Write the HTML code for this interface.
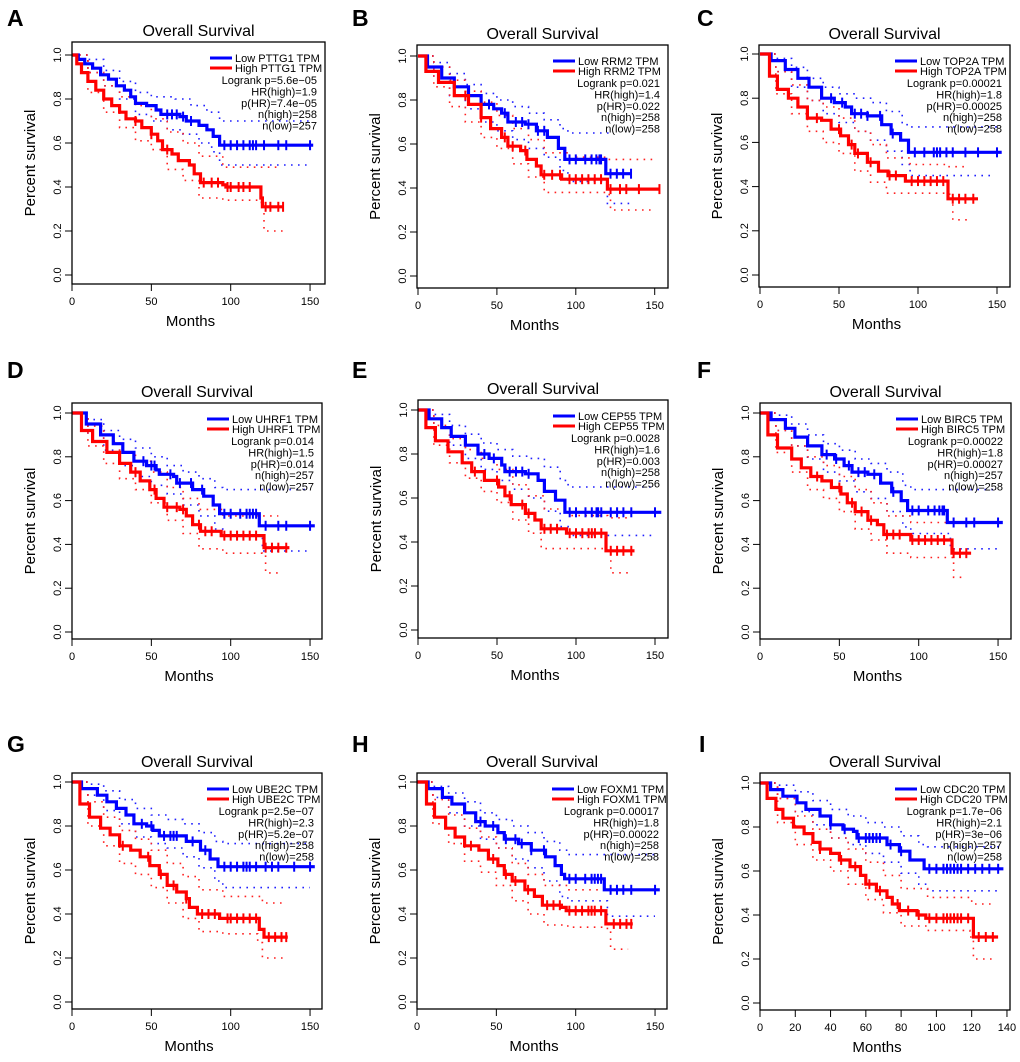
<!DOCTYPE html>
<html><head><meta charset="utf-8"><style>
body{margin:0;background:#fff}
svg text{font-family:"Liberation Sans",Arial,sans-serif}
</style></head><body>
<svg id="fig" width="1020" height="1057" viewBox="0 0 1020 1057" xmlns="http://www.w3.org/2000/svg"></svg>
<script>
// ---- data ----
const panelLetters=["A","B","C","D","E","F","G","H","I"];
const genes=["PTTG1","RRM2","TOP2A","UHRF1","CEP55","BIRC5","UBE2C","FOXM1","CDC20"];
const logrankP=["5.6e\u221205","0.021","0.00021","0.014","0.0028","0.00022","2.5e\u221207","0.00017","1.7e\u221206"];
const hrHigh=["1.9","1.4","1.8","1.5","1.6","1.8","2.3","1.8","2.1"];
const pHR=["7.4e\u221205","0.022","0.00025","0.014","0.003","0.00027","5.2e\u221207","0.00022","3e\u221206"];
const nHigh=["258","258","258","257","258","257","258","258","257"];
const nLow=["257","258","258","257","256","258","258","258","258"];
const xTicks150=[0,50,100,150];
const xTicks140=[0,20,40,60,80,100,120,140];
const yTicks=[0,0.2,0.4,0.6,0.8,1.0];

const lowCurves=[
[[0,1],[4,0.98],[8,0.96],[13,0.94],[18,0.91],[23,0.89],[28,0.86],[33,0.84],[37,0.81],[40,0.78],[47,0.77],[53,0.75],[56,0.73],[68,0.72],[72,0.70],[80,0.68],[85,0.66],[89,0.63],[93,0.59],[152,0.59]],
[[0,1],[6,0.95],[15,0.90],[23,0.86],[32,0.82],[40,0.78],[48,0.76],[53,0.74],[57,0.70],[68,0.69],[75,0.66],[82,0.63],[89,0.58],[93,0.53],[119,0.465],[135,0.465]],
[[0,1],[7,0.97],[16,0.93],[24,0.89],[31,0.85],[39,0.80],[47,0.78],[54,0.76],[58,0.73],[68,0.72],[77,0.68],[83,0.64],[89,0.61],[94,0.555],[153,0.555]],
[[0,1],[9,0.95],[18,0.90],[26,0.86],[32,0.82],[39,0.78],[47,0.76],[53,0.74],[55,0.72],[64,0.71],[66,0.68],[76,0.65],[83,0.62],[89,0.58],[93,0.54],[118,0.485],[153,0.485]],
[[0,1],[7,0.96],[15,0.92],[21,0.88],[30,0.84],[38,0.80],[45,0.78],[53,0.75],[55,0.72],[68,0.71],[76,0.68],[80,0.63],[87,0.59],[93,0.535],[154,0.535]],
[[0,1],[7,0.97],[16,0.93],[22,0.89],[30,0.85],[39,0.81],[47,0.79],[53,0.76],[58,0.73],[68,0.72],[76,0.68],[83,0.64],[89,0.60],[93,0.555],[118,0.50],[153,0.50]],
[[0,1],[6,0.97],[16,0.94],[22,0.91],[28,0.88],[34,0.85],[39,0.81],[47,0.80],[51,0.78],[55,0.755],[72,0.73],[81,0.69],[87,0.65],[92,0.615],[153,0.615]],
[[0,1],[7,0.97],[16,0.93],[22,0.90],[30,0.86],[37,0.82],[43,0.80],[51,0.77],[55,0.74],[64,0.72],[72,0.69],[81,0.66],[87,0.62],[91,0.58],[93,0.56],[118,0.51],[153,0.51]],
[[0,1],[6,0.97],[13,0.94],[21,0.91],[26,0.88],[34,0.85],[40,0.81],[47,0.79],[53,0.78],[55,0.75],[72,0.72],[79,0.69],[85,0.65],[93,0.61],[138,0.61]]
];
const highCurves=[
[[0,1],[3,0.96],[6,0.92],[10,0.88],[15,0.84],[20,0.80],[25,0.77],[30,0.74],[34,0.71],[40,0.70],[44,0.67],[50,0.64],[54,0.61],[57,0.57],[63,0.55],[67,0.52],[74,0.50],[77,0.46],[81,0.42],[95,0.41],[97,0.40],[119,0.35],[120,0.31],[133,0.31]],
[[0,1],[5,0.93],[13,0.88],[23,0.82],[32,0.78],[40,0.72],[46,0.67],[53,0.63],[57,0.59],[65,0.57],[69,0.53],[75,0.50],[78,0.46],[91,0.44],[120,0.395],[153,0.395]],
[[0,1],[6,0.90],[11,0.84],[18,0.80],[24,0.76],[30,0.71],[39,0.70],[45,0.66],[51,0.63],[56,0.59],[60,0.55],[68,0.51],[75,0.47],[81,0.45],[92,0.425],[119,0.345],[138,0.345]],
[[0,1],[6,0.92],[13,0.87],[22,0.82],[30,0.77],[37,0.73],[43,0.69],[49,0.65],[53,0.61],[58,0.57],[68,0.56],[72,0.53],[76,0.49],[81,0.46],[94,0.44],[121,0.385],[137,0.385]],
[[0,1],[5,0.92],[11,0.86],[19,0.81],[28,0.76],[34,0.72],[42,0.68],[51,0.65],[55,0.61],[59,0.57],[68,0.53],[74,0.50],[78,0.46],[94,0.44],[119,0.36],[137,0.36]],
[[0,1],[5,0.90],[11,0.84],[20,0.79],[26,0.75],[32,0.71],[39,0.69],[45,0.66],[51,0.63],[55,0.59],[60,0.55],[68,0.51],[74,0.49],[78,0.445],[95,0.42],[121,0.36],[133,0.36]],
[[0,1],[5,0.90],[11,0.84],[18,0.79],[24,0.76],[30,0.71],[37,0.69],[43,0.66],[49,0.62],[55,0.58],[60,0.53],[66,0.50],[72,0.47],[74,0.43],[79,0.40],[93,0.38],[118,0.33],[121,0.295],[136,0.295]],
[[0,1],[6,0.90],[11,0.84],[18,0.79],[24,0.75],[30,0.71],[39,0.69],[45,0.65],[51,0.62],[55,0.58],[60,0.55],[68,0.51],[74,0.48],[79,0.44],[91,0.43],[94,0.415],[119,0.355],[136,0.355]],
[[0,1],[4,0.93],[9,0.88],[13,0.84],[19,0.80],[25,0.77],[30,0.73],[34,0.70],[40,0.68],[45,0.65],[51,0.62],[57,0.58],[60,0.54],[66,0.51],[72,0.48],[75,0.45],[79,0.42],[89,0.40],[94,0.385],[121,0.30],[135,0.30]]
];
const lowUpper=[
[[0,1],[10,0.98],[20,0.93],[30,0.88],[40,0.83],[50,0.81],[65,0.80],[75,0.77],[85,0.74],[93,0.70],[150,0.70]],
[[0,1],[10,0.97],[20,0.92],[30,0.87],[40,0.83],[50,0.80],[60,0.77],[70,0.74],[80,0.71],[90,0.67],[95,0.65],[121,0.65]],
[[0,1],[10,0.98],[20,0.94],[30,0.89],[40,0.85],[50,0.82],[60,0.80],[70,0.78],[80,0.74],[90,0.68],[95,0.67],[150,0.67]],
[[0,1],[10,0.97],[20,0.92],[30,0.88],[40,0.84],[50,0.80],[60,0.76],[70,0.73],[80,0.70],[90,0.66],[95,0.65],[150,0.65]],
[[0,1],[10,0.98],[20,0.93],[30,0.89],[40,0.85],[50,0.82],[60,0.79],[70,0.78],[80,0.74],[90,0.68],[95,0.65],[150,0.65]],
[[0,1],[10,0.99],[20,0.95],[30,0.90],[40,0.86],[50,0.83],[60,0.79],[70,0.77],[80,0.73],[90,0.67],[95,0.65],[150,0.65]],
[[0,1],[10,0.99],[20,0.96],[30,0.92],[40,0.88],[50,0.85],[60,0.83],[70,0.81],[80,0.77],[90,0.73],[95,0.72],[150,0.72]],
[[0,1],[10,0.98],[20,0.95],[30,0.91],[40,0.86],[50,0.83],[60,0.80],[70,0.77],[80,0.73],[90,0.69],[95,0.67],[150,0.67]],
[[0,1],[10,0.99],[20,0.96],[30,0.92],[40,0.88],[50,0.85],[60,0.82],[70,0.80],[80,0.76],[90,0.72],[95,0.71],[138,0.71]]
];
const lowLower=[
[[0,1],[10,0.92],[20,0.86],[30,0.80],[40,0.73],[50,0.70],[60,0.66],[70,0.64],[80,0.60],[88,0.56],[93,0.50],[148,0.50]],
[[0,1],[10,0.90],[20,0.82],[30,0.76],[40,0.70],[50,0.66],[60,0.62],[70,0.58],[80,0.54],[90,0.48],[95,0.43],[118,0.43],[120,0.33],[135,0.33]],
[[0,1],[10,0.92],[20,0.85],[30,0.79],[40,0.73],[50,0.69],[60,0.65],[70,0.61],[80,0.56],[90,0.50],[95,0.45],[148,0.45]],
[[0,1],[10,0.90],[20,0.83],[30,0.76],[40,0.71],[50,0.67],[60,0.63],[70,0.58],[80,0.53],[90,0.47],[95,0.44],[118,0.44],[120,0.37],[150,0.37]],
[[0,1],[10,0.92],[20,0.84],[30,0.78],[40,0.73],[50,0.68],[60,0.64],[70,0.60],[80,0.54],[90,0.47],[95,0.43],[148,0.43]],
[[0,1],[10,0.92],[20,0.85],[30,0.79],[40,0.73],[50,0.69],[60,0.64],[70,0.61],[80,0.55],[90,0.48],[95,0.45],[118,0.45],[120,0.38],[150,0.38]],
[[0,1],[10,0.94],[20,0.87],[30,0.81],[40,0.75],[50,0.72],[60,0.70],[70,0.66],[80,0.61],[90,0.55],[95,0.52],[150,0.52]],
[[0,1],[10,0.93],[20,0.86],[30,0.80],[40,0.74],[50,0.70],[60,0.65],[70,0.61],[80,0.55],[90,0.48],[95,0.46],[118,0.46],[120,0.39],[150,0.39]],
[[0,1],[10,0.93],[20,0.87],[30,0.81],[40,0.75],[50,0.72],[60,0.68],[70,0.64],[80,0.59],[90,0.54],[95,0.51],[136,0.51]]
];
const highUpper=[
[[0,1],[10,0.92],[20,0.86],[30,0.81],[40,0.77],[50,0.71],[60,0.65],[70,0.60],[80,0.54],[95,0.49],[130,0.48]],
[[0,1],[10,0.95],[20,0.89],[30,0.84],[40,0.79],[50,0.73],[60,0.67],[70,0.62],[80,0.56],[95,0.54],[120,0.53],[150,0.53]],
[[0,1],[10,0.92],[20,0.86],[30,0.79],[40,0.76],[50,0.71],[60,0.65],[70,0.59],[80,0.53],[95,0.50],[118,0.49],[130,0.49]],
[[0,1],[10,0.94],[20,0.87],[30,0.82],[40,0.78],[50,0.73],[60,0.66],[70,0.61],[80,0.56],[95,0.53],[130,0.53]],
[[0,1],[10,0.93],[20,0.87],[30,0.82],[40,0.78],[50,0.73],[60,0.66],[70,0.61],[80,0.55],[95,0.52],[120,0.51],[133,0.51]],
[[0,1],[10,0.92],[20,0.85],[30,0.80],[40,0.76],[50,0.71],[60,0.65],[70,0.59],[80,0.53],[95,0.50],[130,0.50]],
[[0,1],[10,0.91],[20,0.84],[30,0.78],[40,0.74],[50,0.69],[60,0.63],[70,0.57],[80,0.51],[95,0.48],[120,0.45],[133,0.45]],
[[0,1],[10,0.92],[20,0.85],[30,0.79],[40,0.75],[50,0.70],[60,0.63],[70,0.58],[80,0.53],[95,0.51],[120,0.51]],
[[0,1],[10,0.93],[20,0.85],[30,0.79],[40,0.75],[50,0.70],[60,0.64],[70,0.58],[80,0.52],[95,0.48],[120,0.45],[133,0.45]]
];
const highLower=[
[[0,1],[10,0.83],[20,0.74],[30,0.67],[40,0.61],[50,0.57],[60,0.48],[70,0.43],[80,0.35],[95,0.34],[118,0.33],[121,0.20],[133,0.20]],
[[0,1],[10,0.86],[20,0.77],[30,0.70],[40,0.63],[50,0.58],[60,0.51],[70,0.45],[80,0.38],[120,0.37],[122,0.30],[150,0.30]],
[[0,1],[10,0.82],[20,0.73],[30,0.65],[40,0.60],[50,0.55],[60,0.47],[70,0.42],[80,0.37],[120,0.35],[122,0.25],[133,0.25]],
[[0,1],[10,0.85],[20,0.77],[30,0.70],[40,0.65],[50,0.59],[60,0.51],[70,0.45],[80,0.38],[95,0.36],[120,0.35],[122,0.27],[133,0.27]],
[[0,1],[10,0.84],[20,0.76],[30,0.69],[40,0.63],[50,0.58],[60,0.50],[70,0.44],[78,0.37],[120,0.36],[122,0.26],[133,0.26]],
[[0,1],[10,0.82],[20,0.73],[30,0.65],[40,0.61],[50,0.55],[60,0.47],[70,0.42],[80,0.36],[95,0.34],[120,0.34],[122,0.25],[130,0.25]],
[[0,1],[10,0.80],[20,0.71],[30,0.63],[40,0.58],[50,0.52],[60,0.45],[70,0.38],[80,0.32],[95,0.31],[117,0.27],[120,0.20],[133,0.20]],
[[0,1],[10,0.81],[20,0.72],[30,0.64],[40,0.59],[50,0.53],[60,0.46],[70,0.40],[80,0.35],[95,0.34],[120,0.33],[122,0.24],[133,0.24]],
[[0,1],[10,0.82],[20,0.72],[30,0.65],[40,0.60],[50,0.54],[60,0.47],[70,0.41],[80,0.35],[95,0.33],[119,0.30],[121,0.20],[133,0.20]]
];
const lowCensor=[
[60,63,66,70,75,96,100,104,108,112,114,116,121,130,135,150],
[45,55,62,66,70,76,80,96,100,106,110,113,115,116,122,126,130,135],
[45,52,60,64,68,76,84,98,104,110,112,114,118,122,130,138,150],
[45,50,52,62,68,75,82,96,100,106,110,112,114,116,122,130,135,150],
[42,48,58,62,66,70,96,100,106,110,113,114,116,122,126,130,135,150],
[42,48,56,62,66,72,84,96,100,106,110,113,115,116,122,130,135,150],
[44,50,58,62,64,66,76,84,96,100,104,108,110,112,116,122,126,130,140,150],
[40,48,56,62,66,72,80,96,100,106,110,112,114,116,122,126,130,135,150],
[40,48,56,60,62,64,66,68,74,80,96,100,104,106,108,110,112,114,118,122,126,130,135]
];
const highCensor=[
[40,50,60,83,88,92,98,100,105,108,112,122,125,130,133],
[30,40,55,60,68,80,85,90,96,100,104,108,112,116,122,128,132,140,153],
[36,50,58,62,70,82,86,96,100,104,108,112,116,122,126,130,135],
[40,52,60,66,70,80,84,88,96,100,104,108,112,116,122,126,130,135],
[36,50,58,66,70,80,84,88,96,100,104,108,110,112,116,122,126,130,135],
[36,50,58,64,70,80,84,88,96,100,104,108,112,116,122,126,130],
[32,48,56,64,72,82,86,90,98,100,104,108,112,116,124,128,132,135],
[34,48,56,62,70,82,86,90,96,100,104,108,110,112,116,124,128,132,135],
[34,46,54,62,68,78,84,90,96,100,104,106,108,110,112,114,118,124,128,132]
];

// ---- layout (pixel geometry, not data) ----
const geo=[
{L:72,R:325,T:42,B:284,x0:72,ppm:1.587,y1:55,y0:275,ticks:xTicks150,lx:7,ly:26},
{L:417,R:668,T:45,B:288,x0:418,ppm:1.578,y1:56,y0:276,ticks:xTicks150,lx:352,ly:26},
{L:759,R:1010,T:45,B:287,x0:760,ppm:1.58,y1:54,y0:275,ticks:xTicks150,lx:697,ly:26},
{L:72,R:322,T:403,B:639,x0:72,ppm:1.587,y1:413,y0:632,ticks:xTicks150,lx:7,ly:378},
{L:418,R:668,T:400,B:638,x0:418,ppm:1.58,y1:410,y0:630,ticks:xTicks150,lx:352,ly:378},
{L:760,R:1011,T:403,B:639,x0:760,ppm:1.587,y1:413,y0:632,ticks:xTicks150,lx:697,ly:378},
{L:72,R:322,T:773,B:1009,x0:72,ppm:1.587,y1:782,y0:1002,ticks:xTicks150,lx:7,ly:752},
{L:417,R:667,T:773,B:1009,x0:417,ppm:1.587,y1:782,y0:1002,ticks:xTicks150,lx:352,ly:752},
{L:760,R:1010,T:773,B:1010,x0:760,ppm:1.764,y1:783,y0:1003,ticks:xTicks140,lx:699,ly:752}
];

const NS="http://www.w3.org/2000/svg";
const svg=document.getElementById('fig');
function mk(tag,attrs,parent){const e=document.createElementNS(NS,tag);for(const k in attrs)e.setAttribute(k,attrs[k]);parent.appendChild(e);return e;}
function stepPath(pts,xs,ys){let d=`M${xs(pts[0][0]).toFixed(1)},${ys(pts[0][1]).toFixed(1)}`;for(let i=1;i<pts.length;i++){d+=`H${xs(pts[i][0]).toFixed(1)}V${ys(pts[i][1]).toFixed(1)}`;}return d;}
function survAt(pts,t){let s=pts[0][1];for(const p of pts){if(p[0]<=t)s=p[1];}return s;}

geo.forEach((g,i)=>{
  const xs=t=>g.x0+t*g.ppm, ys=s=>g.y0-(g.y0-g.y1)*s;
  const grp=mk('g',{},svg);
  
  
  const lt=mk('text',{x:g.lx,y:g.ly,'font-size':23,'font-weight':'bold'},grp);lt.textContent=panelLetters[i];
  
  
  const tt=mk('text',{x:(g.L+g.R)/2,y:g.T-6,'font-size':16,'text-anchor':'middle'},grp);tt.textContent='Overall Survival';
  
  
  yTicks.forEach(v=>{
    const y=ys(v);mk('line',{x1:g.L-7,x2:g.L,y1:y,y2:y,stroke:'#000','stroke-width':1},grp);
    const tx=mk('text',{x:g.L-11,y:y,'font-size':11,'text-anchor':'middle',transform:`rotate(-90 ${g.L-11} ${y})`},grp);
    tx.textContent=v.toFixed(1);
    
    
  });
  const yl=mk('text',{x:g.L-37,y:(g.T+g.B)/2,'font-size':15,'text-anchor':'middle',transform:`rotate(-90 ${g.L-37} ${(g.T+g.B)/2})`},grp);
  yl.textContent='Percent survival';
  
  
  g.ticks.forEach(v=>{
    const x=xs(v);mk('line',{x1:x,x2:x,y1:g.B,y2:g.B+7,stroke:'#000','stroke-width':1},grp);
    const tx=mk('text',{x:x,y:g.B+21,'font-size':11,'text-anchor':'middle'},grp);tx.textContent=v;
    
    
  });
  const xl=mk('text',{x:(g.L+g.R)/2-8,y:g.B+42,'font-size':15,'text-anchor':'middle'},grp);xl.textContent='Months';
  
  
  [[lowUpper[i],'#2020ff'],[lowLower[i],'#2020ff'],[highUpper[i],'#ff2020'],[highLower[i],'#ff2020']].forEach(([pts,c])=>{
    const p=mk('path',{d:stepPath(pts,xs,ys),fill:'none',stroke:c,'stroke-width':1.6,'stroke-dasharray':'1.6 5.4'},grp);
    
    
  });
  [[lowCurves[i],lowCensor[i],'#0000ff','low-curve'],[highCurves[i],highCensor[i],'#ff0000','high-curve']].forEach(([pts,cens,c,nm])=>{
    const p=mk('path',{d:stepPath(pts,xs,ys),fill:'none',stroke:c,'stroke-width':3.2},grp);
    
    
    cens.forEach(t=>{const x=xs(t),y=ys(survAt(pts,t));
      const m=mk('line',{x1:x,x2:x,y1:y-5,y2:y+5,stroke:c,'stroke-width':2},grp);
      
      
    });
  });
  mk('rect',{x:g.L,y:g.T,width:g.R-g.L,height:g.B-g.T,fill:'none',stroke:'#000','stroke-width':1.3},grp);
  const lg=mk('g',{},grp);
  
  
  [['#0000ff','Low '+genes[i]+' TPM',16],['#ff0000','High '+genes[i]+' TPM',26]].forEach(([c,t,dy])=>{
    mk('line',{x1:g.R-115,x2:g.R-93,y1:g.T+dy,y2:g.T+dy,stroke:c,'stroke-width':3},lg);
    const tx=mk('text',{x:g.R-90,y:g.T+dy+4,'font-size':11},lg);tx.textContent=t;
    
    
  });
  ['Logrank p='+logrankP[i],'HR(high)='+hrHigh[i],'p(HR)='+pHR[i],'n(high)='+nHigh[i],'n(low)='+nLow[i]].forEach((t,k)=>{
    const tx=mk('text',{x:g.R-8,y:g.T+42+k*11.4,'font-size':11,'text-anchor':'end'},lg);tx.textContent=t;
    
    
  });
});
</script>
</body></html>
